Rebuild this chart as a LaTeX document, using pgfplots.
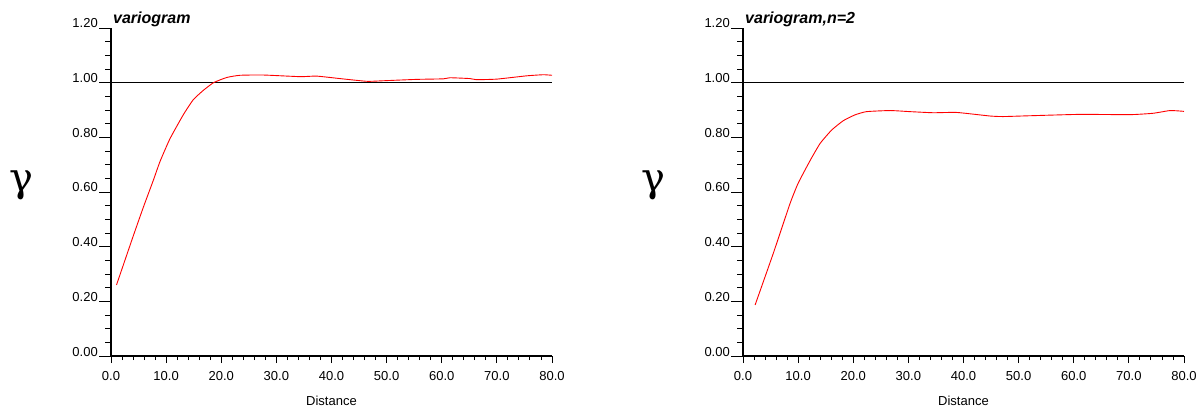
\documentclass[border=0pt]{standalone}
\usepackage{pgfplots}
\pgfplotsset{compat=1.18}
\usepackage{fontspec}
\setmainfont{Liberation Sans}
\newfontfamily\serifg{DejaVu Serif}

\pgfplotstableread{
x y
1.0 0.26
4.0 0.437
5.9 0.546
7.7 0.644
8.9 0.712
10.7 0.795
13.1 0.882
14.9 0.937
16.7 0.971
18.6 1.000
21.0 1.019
23.4 1.027
27.6 1.028
34.3 1.022
37.3 1.024
41.5 1.015
46.4 1.005
49.4 1.007
55.4 1.012
60.3 1.014
61.5 1.018
65.1 1.015
66.3 1.011
70.0 1.013
75.4 1.025
78.4 1.029
80.0 1.027
}\varioA

\pgfplotstableread{
x y
2.2 0.187
5.5 0.376
8.5 0.556
10.0 0.632
12.2 0.716
14.0 0.778
16.1 0.827
18.2 0.861
20.3 0.882
22.4 0.894
26.7 0.898
30.3 0.894
34.5 0.890
38.8 0.891
44.8 0.878
47.2 0.876
52.1 0.879
61.1 0.884
70.2 0.883
74.4 0.888
77.5 0.898
80.0 0.895
}\varioB

\pgfplotsset{
  vario/.style={
    scale only axis, width=441pt, height=328pt,
    xmin=0, xmax=80, ymin=0, ymax=1.2,
    clip=false,
    axis x line=bottom, axis y line=left,
    axis line style={-, line width=1.1pt, black},
    xtick={0,10,20,30,40,50,60,70,80},
    ytick={0,0.2,0.4,0.6,0.8,1.0,1.2},
    minor x tick num=4, minor y tick num=3,
    tick align=outside,
    major tick length=12pt, minor tick length=6pt,
    major x tick style={/pgfplots/major tick length=7pt},
    minor x tick style={/pgfplots/minor tick length=4pt},
    tick style={black, line width=0.9pt},
    /pgf/number format/assume math mode=true,
    x tick label style={font=\fontsize{13}{15}\selectfont,
      /pgf/number format/fixed, /pgf/number format/fixed zerofill,
      /pgf/number format/precision=1},
    y tick label style={font=\fontsize{13}{15}\selectfont, anchor=base east, inner sep=1pt,
      /pgf/number format/fixed, /pgf/number format/fixed zerofill,
      /pgf/number format/precision=2},
    xlabel={Distance},
    xlabel style={font=\fontsize{13}{15}\selectfont, yshift=-8pt},
    ylabel={\serifg\fontsize{40}{44}\selectfont γ},
    ylabel style={rotate=-90, at={(axis description cs:0,0.5)}, anchor=center, xshift=-90pt, yshift=7pt},
  }
}

\begin{document}
\begin{tikzpicture}
\path[use as bounding box] (0,0) rectangle (1204pt,410pt);
\begin{axis}[vario, at={(111pt,54pt)}, anchor=south west]
  \addplot[black, line width=0.8pt] coordinates {(0,1) (80,1)};
  \addplot[red, line width=0.9pt, smooth, tension=0.3] table[x=x,y=y] {\varioA};
  \node[anchor=base west, font=\fontsize{16}{18}\selectfont\bfseries\itshape, inner sep=0pt, xshift=2pt, yshift=4pt] at (axis cs:0,1.2) {variogram};
\end{axis}
\begin{axis}[vario, at={(743pt,54pt)}, anchor=south west]
  \addplot[black, line width=0.8pt] coordinates {(0,1) (80,1)};
  \addplot[red, line width=0.9pt, smooth, tension=0.3] table[x=x,y=y] {\varioB};
  \node[anchor=base west, font=\fontsize{16}{18}\selectfont\bfseries\itshape, inner sep=0pt, xshift=2pt, yshift=4pt] at (axis cs:0,1.2) {variogram,n=2};
\end{axis}
\end{tikzpicture}
\end{document}
